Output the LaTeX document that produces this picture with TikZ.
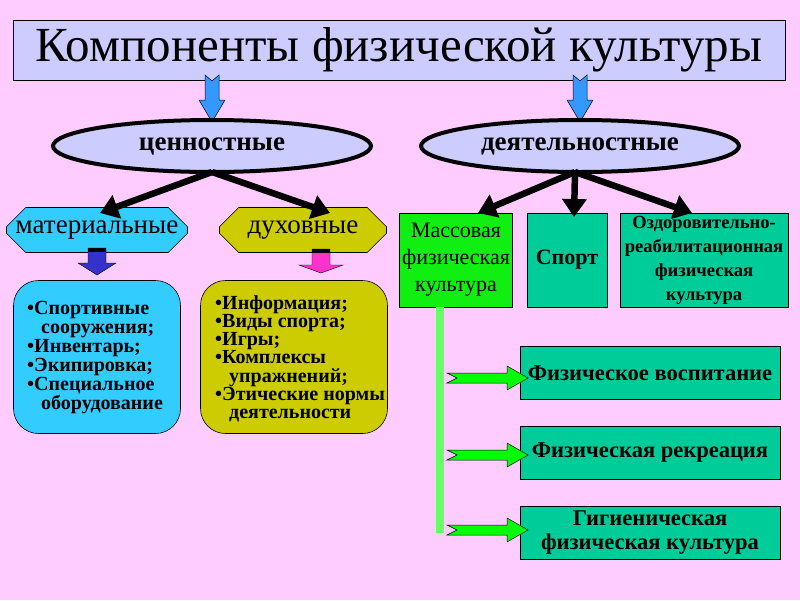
\documentclass[tikz,border=0pt]{standalone}
\usepackage{fontspec}
\setmainfont{Liberation Serif}
\usetikzlibrary{shapes.geometric,shapes.misc,arrows.meta}
\definecolor{bg}{HTML}{FFCCFF}
\definecolor{lav}{HTML}{CCCCFF}
\definecolor{barrow}{HTML}{3399FF}
\definecolor{cyanb}{HTML}{33CCFF}
\definecolor{olive}{HTML}{CCCC00}
\definecolor{brgreen}{HTML}{11EE11}
\definecolor{teal}{HTML}{00CC99}
\definecolor{lgreen}{HTML}{66FF66}
\definecolor{dblue}{HTML}{3333CC}
\definecolor{pinkar}{HTML}{FF33CC}
\definecolor{garrow}{HTML}{00FF00}
\tikzset{
  ell/.style={ellipse,draw=black,line width=4pt,fill=lav,minimum width=318pt,minimum height=52pt,font=\bfseries\fontsize{27}{30}\selectfont},
  chbox/.style={chamfered rectangle,chamfered rectangle xsep=10pt,chamfered rectangle ysep=10pt,draw=black,line width=0.6pt,minimum height=45pt,inner sep=0pt,font=\fontsize{27}{30}\selectfont},
  rbox/.style={rectangle,rounded corners=25pt,draw=black,line width=0.6pt,minimum height=153pt,inner sep=0pt},
  sqbox/.style={rectangle,draw=black,line width=0.6pt,inner sep=0pt,align=center},
  thick arrow/.style={line width=6.5pt,-{Triangle[length=18pt,width=24pt]}},
  listtext/.style={font=\bfseries\fontsize{20}{19}\selectfont,align=left,anchor=north west,inner sep=0pt},
  bottombox/.style={sqbox,fill=teal,minimum width=260pt,minimum height=53pt,font=\bfseries\fontsize{22.5}{25}\selectfont},
}
\begin{document}
\begin{tikzpicture}[x=1pt,y=-1pt]
\fill[bg] (0,0) rectangle (800,600);
\useasboundingbox (0,0) rectangle (800,600);
% title
\node[draw=black,line width=0.6pt,fill=lav,minimum width=772pt,minimum height=60pt,inner sep=0pt,font=\fontsize{49}{54}\selectfont] (title) at (399,50) {\raisebox{-3pt}{Компоненты физической культуры}};
% blue arrows
\foreach \cx/\nm in {212/bl,580/br}{
  \coordinate (\nm) at (\cx,75);
  \fill[barrow,draw=black,line width=0.5pt] (\nm) ++(-7,0) -- ++(7,6) -- ++(7,-6) -- ++(0,25) -- ++(6,0) -- ++(-13,22) -- ++(-13,-22) -- ++(6,0) -- cycle;
}
% ellipses
\node[ell] (ellL) at (212,146) {ценностные};
\node[ell] (ellR) at (580,146) {деятельностные};
% level 2 left
\node[chbox,fill=cyanb,minimum width=167pt] (mat) at (97,230) {материальные};
\node[chbox,fill=olive,minimum width=167pt] (duh) at (303,230) {духовные};
% level 2 right
\node[sqbox,fill=brgreen,minimum width=113pt,minimum height=94pt,font=\fontsize{22}{27}\selectfont] (mass) at (456,260) {Массовая\\физическая\\культура};
\node[sqbox,fill=teal,minimum width=80pt,minimum height=94pt,font=\bfseries\fontsize{22}{24}\selectfont] (sport) at (567,260) {Спорт};
\node[sqbox,fill=teal,minimum width=168pt,minimum height=94pt,font=\bfseries\fontsize{18.5}{24}\selectfont] (ozd) at (704,260) {Оздоровительно-\\реабилитационная\\физическая\\культура};
% thick arrows
\coordinate (lo) at (212,172);
\coordinate (ro) at (575,172);
\coordinate (t1) at (100,213);
\coordinate (t2) at (330,213);
\coordinate (t3) at (478,213);
\coordinate (t4) at (574,217);
\coordinate (t5) at (692,213);
\draw[thick arrow] (lo) -- (t1);
\draw[thick arrow] (lo) -- (t2);
\draw[thick arrow] (ro) -- (t3);
\draw[thick arrow] (ro) -- (t4);
\draw[thick arrow] (ro) -- (t5);
% small arrows
\coordinate (sa) at (97,248);
\fill[dblue,draw=black,line width=0.4pt] (sa) ++(-9,0) -- ++(18,0) -- ++(0,15) -- ++(10,0) -- ++(-19,12) -- ++(-19,-12) -- ++(10,0) -- cycle;
\fill[black] (sa) ++(-9,0) rectangle ++(18,4);
\coordinate (sb) at (321,249);
\fill[pinkar,draw=black,line width=0.4pt] (sb) ++(-9,0) -- ++(18,0) -- ++(0,16) -- ++(13,0) -- ++(-22,8) -- ++(-22,-8) -- ++(13,0) -- cycle;
\fill[black] (sb) ++(-9,0) rectangle ++(18,4);
% rounded boxes
\node[rbox,fill=cyanb,minimum width=167pt] (matbox) at (97,357) {};
\node[rbox,fill=olive,minimum width=187pt] (duhbox) at (294,357) {};
\node[listtext] (matlist) at (27,301) {\textbullet Спортивные\\\hspace*{14pt}сооружения;\\\textbullet Инвентарь;\\\textbullet Экипировка;\\\textbullet Специальное\\\hspace*{14pt}оборудование};
\node[listtext,font=\bfseries\fontsize{20}{18.3}\selectfont] (duhlist) at (215,295) {\textbullet Информация;\\\textbullet Виды спорта;\\\textbullet Игры;\\\textbullet Комплексы\\\hspace*{14pt}упражнений;\\\textbullet Этические нормы\\\hspace*{14pt}деятельности};
% green bar
\fill[lgreen] (436,307) rectangle (444,533);
% bottom boxes
\node[bottombox] (fv) at (650,373) {Физическое воспитание};
\node[bottombox] (fr) at (650,453) {Физическая рекреация};
\node[bottombox,font=\bfseries\fontsize{22.5}{24}\selectfont] (gig) at (650,533) {Гигиеническая\\физическая культура};
% green block arrows
\foreach \yy/\nm in {378/g1,455/g2,530/g3}{
  \coordinate (\nm) at (447,\yy);
  \fill[garrow,draw=black,line width=0.5pt] (\nm) ++(0,-5) -- ++(60,0) -- ++(0,-7) -- ++(21,12) -- ++(-21,12) -- ++(0,-7) -- ++(-60,0) -- ++(10,-5) -- cycle;
}
\end{tikzpicture}
\end{document}
